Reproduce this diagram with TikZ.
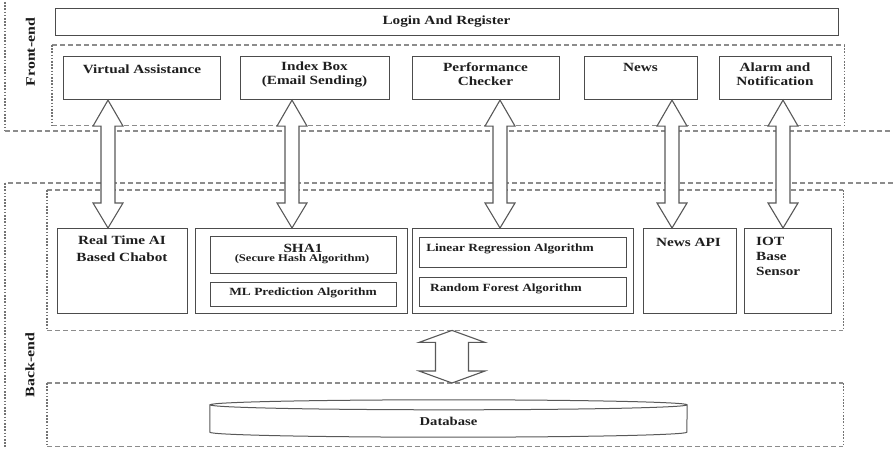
\documentclass[tikz,border=0pt]{standalone}
\usepackage{fontspec}
\setmainfont{Liberation Serif}[FakeStretch=1.22]
\usetikzlibrary{calc}
\tikzset{
 box/.style={draw=black!70, line width=1.1pt, fill=white, rectangle, inner sep=0pt, anchor=north west},
 area/.style={rectangle, inner sep=0pt, anchor=north west},
 txt/.style={font=\bfseries\fontsize{12.5}{14}\selectfont, text=black!88, inner sep=0pt, align=center},
 stxt/.style={font=\bfseries\fontsize{11}{13}\selectfont, text=black!88, inner sep=0pt, align=center},
 xstxt/.style={font=\bfseries\fontsize{10.3}{12}\selectfont, text=black!88, inner sep=0pt, align=center},
 hdash/.style={draw=black!45, line width=1.3pt, dash pattern=on 5pt off 3pt},
 vdot/.style={draw=black!55, line width=1.3pt, dash pattern=on 1.6pt off 1.6pt},
 bigarrow/.style={draw=black!65, line width=1.1pt, fill=white, line join=miter},
 cyl/.style={draw=black!65, line width=1pt, fill=white},
 side/.style={font=\bfseries\fontsize{13}{15}\selectfont, rotate=90, inner sep=0pt, text=black!90},
}
\newcommand\mybx[5]{\node[box, minimum width={(#4-#2)*1pt}, minimum height={(#5-#3)*1pt}] (#1) at (#2,#3) {};}
\newcommand\myarea[5]{\node[area, minimum width={(#4-#2)*1pt}, minimum height={(#5-#3)*1pt}] (#1) at (#2,#3) {};}
\newcommand\mydashsides[1]{%
 \draw[hdash] (#1.north west) -- (#1.north east);
 \draw[hdash] (#1.south west) -- (#1.south east);
 \draw[vdot] (#1.north west) -- (#1.south west);
 \draw[vdot] (#1.north east) -- (#1.south east);}
\newcommand\myvdarrow[7]{%
 \draw[bigarrow] let \p1=(#1), \p2=(#2), \p3=(#3) in
 (\x3,\y1) -- (\x3+#4,\y1-#6) -- (\x3+#5,\y1-#6) -- (\x3+#5,\y2+#7) -- (\x3+#4,\y2+#7)
 -- (\x3,\y2) -- (\x3-#4,\y2+#7) -- (\x3-#5,\y2+#7) -- (\x3-#5,\y1-#6) -- (\x3-#4,\y1-#6) -- cycle;}
\begin{document}
\begin{tikzpicture}[x=1pt,y=-1pt]
\useasboundingbox (0,0) rectangle (893,449);
% outer regions
\coordinate (fo1) at (5,2);
\coordinate (fo2) at (5,131);
\coordinate (fo3) at (893,131);
\coordinate (bo1) at (893,183);
\coordinate (bo2) at (5,183);
\coordinate (bo3) at (5,449);
\draw[vdot] (fo1) -- (fo2);
\draw[hdash] (fo2) -- (fo3);
\draw[hdash] (bo1) -- (bo2);
\draw[vdot] (bo2) -- (bo3);
% inner dashed areas
\myarea{fin}{52}{45}{844}{125}
\myarea{bin}{47}{190}{843}{330}
\myarea{dbb}{47}{383}{843}{446}
\mydashsides{fin}
\mydashsides{bin}
\mydashsides{dbb}
% side labels
\node[side] (lfront) at (30.5,52) {Front-end};
\node[side] (lback) at (30,365) {Back-end};
% login
\mybx{lg}{55}{8}{838}{35}
\node[txt] (tlg) at (446.5,21.5) {Login And Register};
% front boxes
\mybx{va}{63}{56}{220}{99}
\mybx{ib}{240}{56}{389}{99}
\mybx{pc}{412}{56}{559}{99}
\mybx{nw}{584}{56}{697}{99}
\mybx{al}{719}{56}{831}{99}
\node[txt] (tva) at (142,69) {Virtual Assistance};
\node[txt] (tib) at (314.5,74.5) {Index Box\\(Email Sending)};
\node[txt] (tpc) at (485.5,74.5) {Performance\\Checker};
\node[txt] (tnw) at (640.5,67.5) {News};
\node[txt] (tal) at (775,74) {Alarm and\\Notification};
% back boxes
\mybx{cb}{57}{228}{187}{313}
\mybx{sh}{195}{228}{407}{313}
\mybx{lr}{412}{228}{633}{313}
\mybx{na}{643}{228}{736}{313}
\mybx{io}{744}{228}{831}{313}
\mybx{sha}{210}{236}{396}{273}
\mybx{ml}{210}{282}{396}{306}
\mybx{lin}{419}{237}{626}{267}
\mybx{rf}{419}{277}{626}{306}
\node[txt] (tcb) at (122,248.5) {Real Time AI\\[3pt]Based Chabot};
\node[txt] (tsha) at (303,248) {SHA1};
\node[xstxt] (tsha2) at (302,259.5) {(Secure Hash Algorithm)};
\node[stxt] (tml) at (303,293) {ML Prediction Algorithm};
\node[stxt] (tlin) at (510,249) {Linear Regression Algorithm};
\node[stxt] (trf) at (506,289) {Random Forest Algorithm};
\node[txt] (tna) at (688.5,242.5) {News API};
\node[txt, align=left, anchor=west] (tio) at (756,256) {IOT\\[1pt]Base\\[1pt]Sensor};
% database
\node[inner sep=0pt, minimum width=477pt, minimum height=37pt] (db) at (448.5,418.5) {};
\draw[cyl] ([yshift=-5pt]db.north west) -- ([yshift=5pt]db.south west)
  arc[start angle=180, end angle=360, x radius=238.5pt, y radius=5pt]
  -- ([yshift=-5pt]db.north east)
  arc[start angle=0, end angle=180, x radius=238.5pt, y radius=5pt]
  arc[start angle=180, end angle=360, x radius=238.5pt, y radius=5pt];
\node[stxt, font=\bfseries\fontsize{12}{14}\selectfont] (tdb) at (448.5,421) {Database};
% arrows
\coordinate (ax1) at (108,0);
\coordinate (ax2) at (292,0);
\coordinate (ax3) at (500,0);
\coordinate (ax4) at (672,0);
\coordinate (ax5) at (783,0);
\coordinate (adb) at (452,0);
\myvdarrow{va.south}{cb.north}{ax1}{15pt}{7pt}{26pt}{25pt}
\myvdarrow{ib.south}{sh.north}{ax2}{15pt}{7pt}{26pt}{25pt}
\myvdarrow{pc.south}{lr.north}{ax3}{15pt}{7pt}{26pt}{25pt}
\myvdarrow{nw.south}{na.north}{ax4}{15pt}{7pt}{26pt}{25pt}
\myvdarrow{al.south}{io.north}{ax5}{15pt}{7pt}{26pt}{25pt}
\myvdarrow{bin.south}{dbb.north}{adb}{33pt}{16.5pt}{12pt}{12pt}
\end{tikzpicture}
\end{document}
